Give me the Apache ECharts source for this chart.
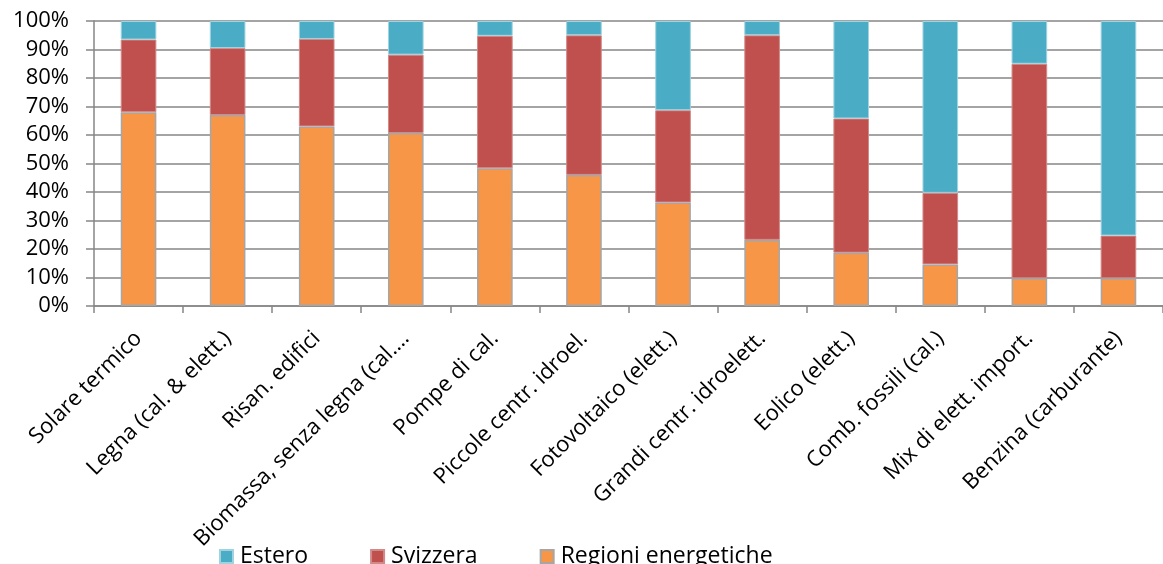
<!DOCTYPE html>
<html>
<head>
<meta charset="utf-8">
<script src="https://cdn.jsdelivr.net/npm/echarts@6/dist/echarts.min.js"></script>
<style>
html,body{margin:0;padding:0;background:#fff;}
#chart{width:1163px;height:564px;}
</style>
</head>
<body>
<div id="chart"></div>
<script>
const categories = [
  "Solare termico",
  "Legna (cal. & elett.)",
  "Risan. edifici",
  "Biomassa, senza legna (cal.…",
  "Pompe di cal.",
  "Piccole centr. idroel.",
  "Fotovoltaico (elett.)",
  "Grandi centr. idroelett.",
  "Eolico (elett.)",
  "Comb. fossili (cal.)",
  "Mix di elett. import.",
  "Benzina (carburante)"
];
const regioni  = [68, 67, 63, 60.7, 48.3, 46, 36.3, 23.2, 18.7, 14.6, 9.7, 9.7];
const svizzera = [25.5, 23.5, 30.7, 27.5, 46.5, 49, 32.4, 71.8, 47.1, 25.1, 75.3, 15];
const estero   = [6.5, 9.5, 6.3, 11.8, 5.2, 5, 31.3, 5, 34.2, 60.3, 15, 75.3];
const yTicks = ["0%","10%","20%","30%","40%","50%","60%","70%","80%","90%","100%"];

const FONT = "'Open Sans', sans-serif";
const chart = echarts.init(document.getElementById('chart'), null, {renderer:'canvas'});
chart.setOption({
  animation: false,
  backgroundColor: '#ffffff',
  textStyle: {fontFamily: FONT},
  legend: {
    data: ['Estero', 'Svizzera', 'Regioni energetiche'],
    left: 214, top: 540,
    icon: 'rect',
    itemWidth: 13, itemHeight: 13,
    itemGap: 62,
    textStyle: {fontFamily: FONT, fontSize: 23, color: '#000', padding: [0,0,0,2]}
  },
  grid: {left: 94, top: 21, width: 1072, height: 285, containLabel: false},
  xAxis: {
    type: 'category',
    data: categories,
    boundaryGap: true,
    axisLine: {show: true, lineStyle: {color: '#868686', width: 1.5}},
    axisTick: {show: true, length: 7, lineStyle: {color: '#868686', width: 1.5}},
    axisLabel: {rotate: 45, interval: 0, margin: 29, fontFamily: FONT, fontSize: 22, color: '#000'}
  },
  yAxis: {
    type: 'value',
    min: 0, max: 100, interval: 10,
    axisLine: {show: true, lineStyle: {color: '#868686', width: 1.5}},
    axisTick: {show: true, length: 8, lineStyle: {color: '#868686', width: 1.5}},
    splitLine: {show: true, lineStyle: {color: '#868686', width: 1.5}},
    axisLabel: {
      margin: 25, fontFamily: FONT, fontSize: 22, color: '#000',
      formatter: function (v) { return yTicks[Math.round(v / 10)]; }
    }
  },
  series: [
    {
      name: 'Regioni energetiche', type: 'bar', stack: 'tot', data: regioni,
      barCategoryGap: '60%',
      itemStyle: {color: '#F79646', borderColor: '#a6a6a6', borderWidth: 1.5}
    },
    {
      name: 'Svizzera', type: 'bar', stack: 'tot', data: svizzera,
      itemStyle: {color: '#C0504D', borderColor: '#d08a88', borderWidth: 1}
    },
    {
      name: 'Estero', type: 'bar', stack: 'tot', data: estero,
      itemStyle: {color: '#4BACC6', borderColor: '#9fd3e0', borderWidth: 1}
    }
  ]
});
</script>
</body>
</html>
